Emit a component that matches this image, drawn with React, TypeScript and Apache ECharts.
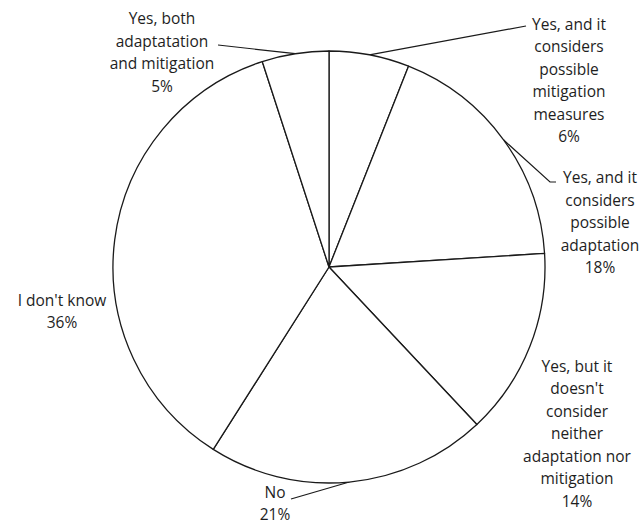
import React, { useEffect, useRef } from 'react';
import * as echarts from 'echarts';

// Answer categories, clockwise from twelve o'clock
const categories = [
  'Yes, and it\nconsiders\npossible\nmitigation\nmeasures',
  'Yes, and it\nconsiders\npossible\nadaptation',
  "Yes, but it\ndoesn't\nconsider\nneither\nadaptation nor\nmitigation",
  'No',
  "I don't know",
  'Yes, both\nadaptatation\nand mitigation',
];

// Share of respondents (%)
const shares = [6, 18, 14, 21, 36, 5];

// Where each label sits (its centre) and the bend points of its leader line
const labelSpots: { x: number; y: number; line: number[][] | null }[] = [
  { x: 569, y: 80, line: [[526, 26]] },
  { x: 600, y: 222, line: [[550, 182], [556, 182]] },
  { x: 577, y: 433, line: null },
  { x: 275, y: 503, line: [[291, 499]] },
  { x: 62, y: 311, line: null },
  { x: 162, y: 52, line: [[218, 45]] },
];

const CENTER = [329, 267];
const RADIUS = 216;

export default function App() {
  const ref = useRef<HTMLDivElement>(null);

  useEffect(() => {
    if (!ref.current) return;
    const chart = echarts.init(ref.current, undefined, { renderer: 'svg' });
    const total = shares.reduce((a, b) => a + b, 0);

    // mid-angle edge point of a slice, used when the library gives none
    const edgePoint = (i: number) => {
      const before = shares.slice(0, i).reduce((a, b) => a + b, 0);
      const frac = (before + shares[i] / 2) / total;
      const ang = Math.PI / 2 - frac * Math.PI * 2;
      return [CENTER[0] + RADIUS * Math.cos(ang), CENTER[1] - RADIUS * Math.sin(ang)];
    };

    chart.setOption({
      animation: false,
      backgroundColor: '#ffffff',
      series: [
        {
          type: 'pie',
          center: CENTER,
          radius: RADIUS,
          startAngle: 90,
          clockwise: true,
          avoidLabelOverlap: false,
          percentPrecision: 0,
          itemStyle: { color: '#ffffff', borderColor: '#1a1a1a', borderWidth: 1.3 },
          emphasis: { disabled: true },
          label: {
            show: true,
            position: 'outside',
            formatter: '{b}\n{d}%',
            fontFamily: 'Open Sans',
            fontSize: 15.5,
            lineHeight: 22.5,
            color: '#1e1e1e',
            align: 'center',
          },
          labelLine: {
            show: true,
            lineStyle: { color: '#1a1a1a', width: 1.2 },
          },
          labelLayout: (params: any) => {
            const spot = labelSpots[params.dataIndex];
            const out: any = {
              x: spot.x,
              y: spot.y,
              align: 'center',
              verticalAlign: 'middle',
            };
            if (spot.line) {
              const start =
                params.labelLinePoints && params.labelLinePoints[0]
                  ? params.labelLinePoints[0]
                  : edgePoint(params.dataIndex);
              out.labelLinePoints = [start, ...spot.line];
            }
            return out;
          },
          data: categories.map((name, i) => ({
            name,
            value: shares[i],
            labelLine: { show: !!labelSpots[i].line },
          })),
        },
      ],
    });

    return () => chart.dispose();
  }, []);

  return (
    <div
      ref={ref}
      style={{ position: 'absolute', left: 0, top: 0, width: 643, height: 524 }}
    />
  );
}
